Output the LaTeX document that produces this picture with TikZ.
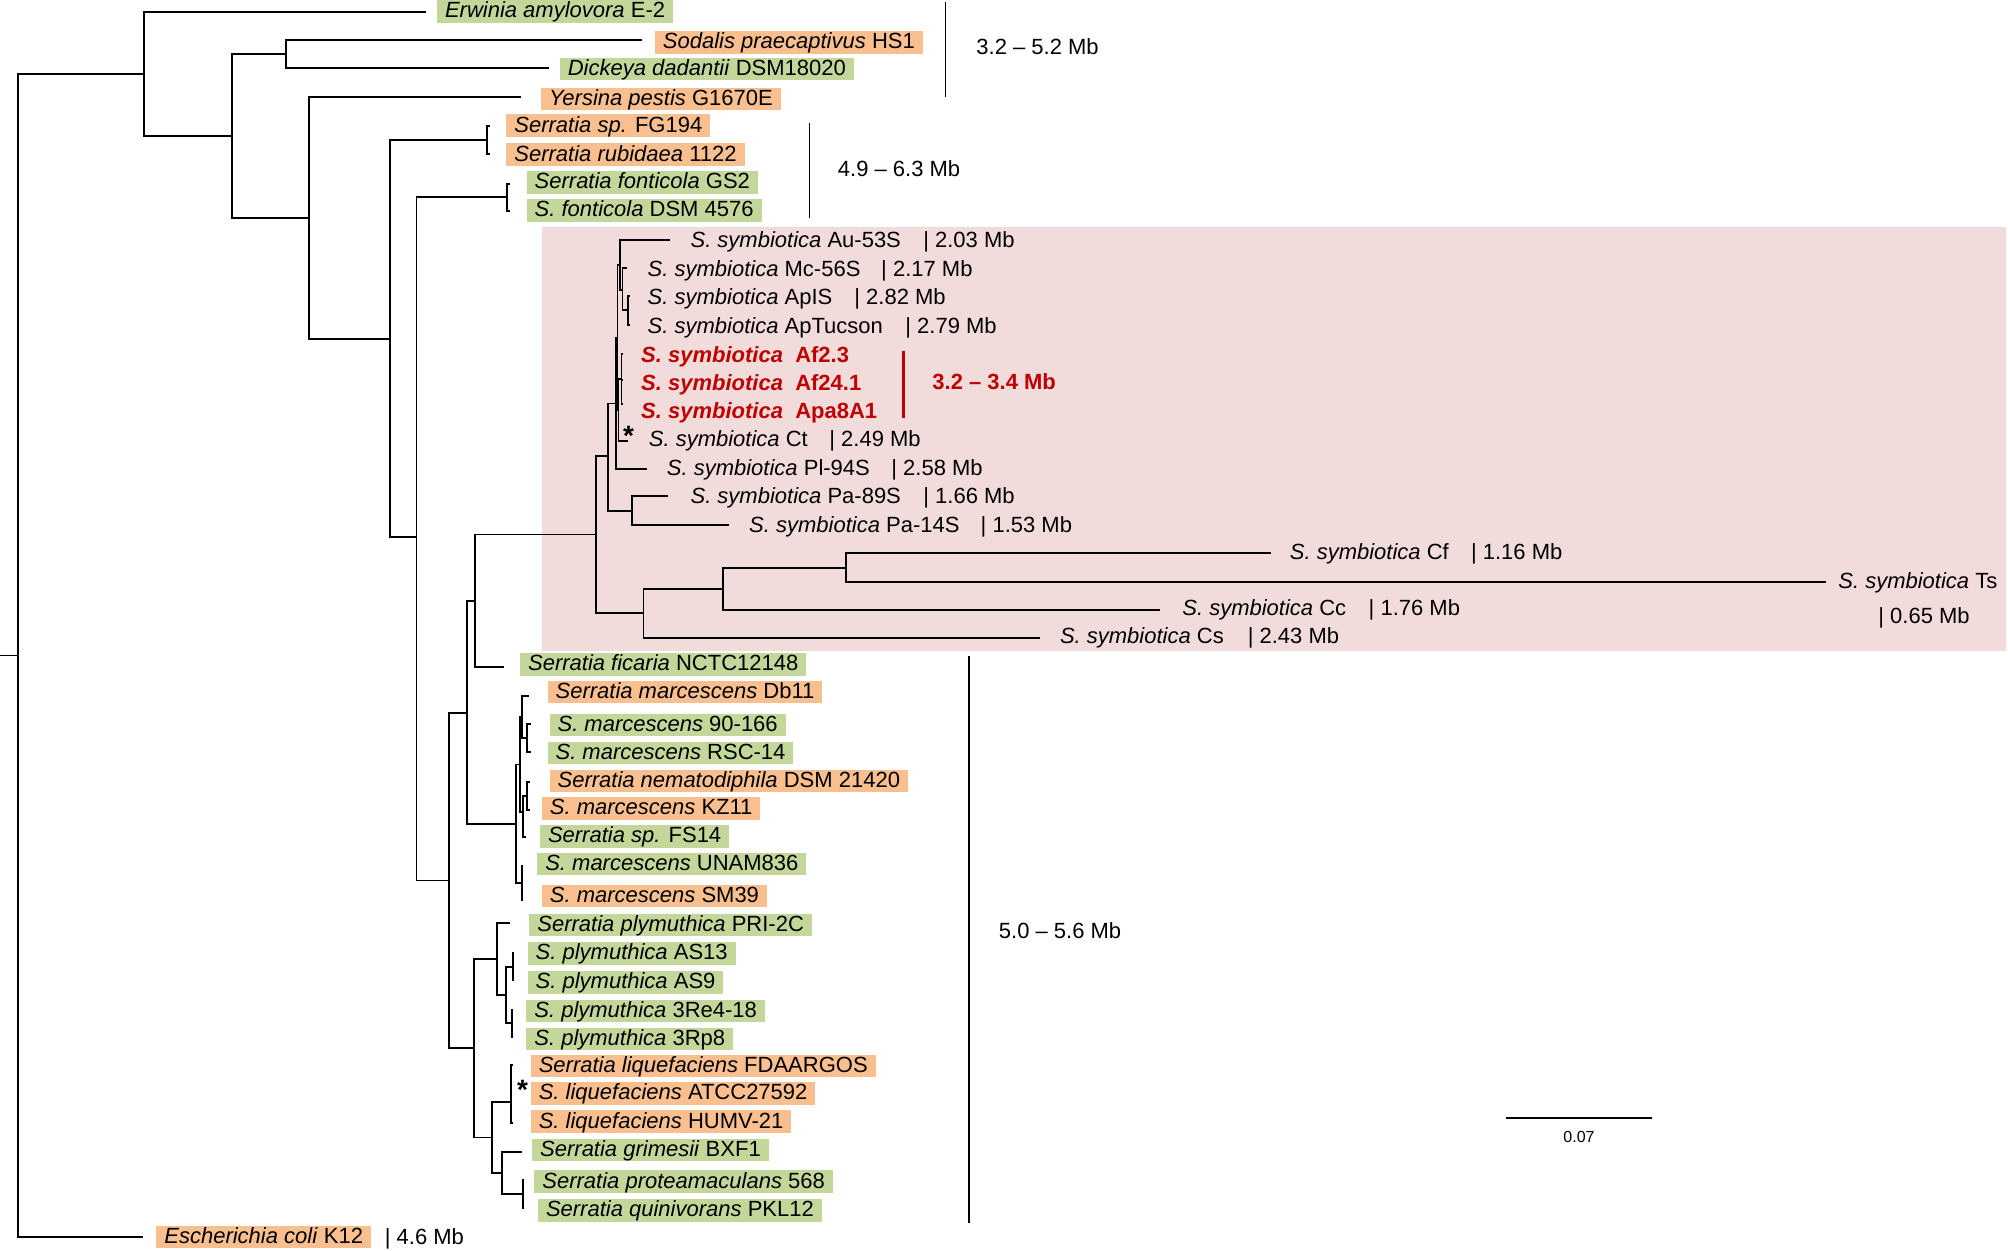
\documentclass[tikz,border=0pt]{standalone}
\usepackage{fontspec}
\setmainfont{Liberation Sans}
\usepackage{xcolor}

\definecolor{boxgreen}{HTML}{C4D79B}
\definecolor{boxorange}{HTML}{FABF8F}
\definecolor{symbg}{HTML}{F2DCDB}
\definecolor{symred}{HTML}{C00000}

\newcommand{\ssym}{\textit{S. symbiotica}}

\begin{document}
\begin{tikzpicture}[
    x=0.5pt,y=-0.5pt,
    font=\fontsize{11}{13}\selectfont,
    branch/.style={line width=0.9pt},
    gbox/.style={fill=boxgreen,anchor=west,inner xsep=4pt,inner ysep=0.2pt,
      text height=8.6pt,text depth=2.3pt},
    obox/.style={gbox,fill=boxorange},
    taxon/.style={anchor=west,inner sep=0pt,text height=8.6pt,text depth=2.3pt},
    redtaxon/.style={taxon,text=symred,font=\fontsize{11}{13}\selectfont\bfseries},
    sizebar/.style={line width=0.65pt},
    star/.style={inner sep=0pt,font=\fontsize{14}{14}\selectfont\bfseries},
  ]
  \useasboundingbox (0,0) rectangle (2008,1251);

  % symbiotica clade background
  \fill[symbg] (541.5,226.7) rectangle (2006,650.5);

  % inner nodes
  \foreach \n/\x/\y in {root/17.9/655.5, A/143.8/74, B/232/136, C/285.7/54.3,
      D/309/218.3, E/389.7/339.3, F/486.6/140, G/416.5/537, H/506.7/197.3,
      I/449/880.5, J/467/712.7, K/475/601, P/596/534.5, Q/608/455.7,
      R/632/510.7, S/615.7/403.5, S1/617.5/338, S2/620/265, S4/622.5/290,
      S5/628.3/310, S3/618.5/410, S6/621.5/379, T/643.5/613.3, U/722.7/589.3,
      V/845.6/567.7, L/516/824, M/520/764.5, M1/522.3/717, M1b/526.7/738,
      M2/523.3/812, M2b/526.7/796, Lb/521.7/883, W/473.75/1048, X/497.3/959,
      Y/506/995, Y1/513.3/966.7, Y2/511.7/1023.3, Z/491.7/1137.4,
      Liq/510.7/1101.7, AA/501.7/1173, AB/523.3/1194}
    \coordinate (\n) at (\x,\y);

  % branch tips
  \foreach \n/\x/\y in {teco/143.4/1237, terw/426/11.7, tsod/641.5/40.3,
      tdic/549/68.3, tyer/521.4/97.3, tfg/490/126, trub/490/154,
      tfgs/510/184, tfdsm/510/210.7, tfic/504/666.7, tpa89/668.4/496,
      tpa14/728.9/525, tpl/646.7/469, tau/670.3/240, tmc/627/268,
      tapi/629.5/296, tapt/629.5/325, tct/628.3/440.7, taf2/622.5/354,
      taf24/622.5/380, tapa/622.5/404, tcs/1040/638.3, tcc/1160/610,
      tcf/1271/553.3, tts/1826/581.7, tdb/529.3/696, tm90/530.7/724,
      trsc/530.7/752, tfs/525.5/836.7, tnem/529.5/781.7, tkz/529.5/810,
      tunam/523/866, tsm/523/900, tpri/510.4/923.3, tas13/514/953.3,
      tas9/514/980, tre4/512.5/1010, trp8/512.5/1036.7, tfda/513/1065,
      thumv/513/1123.3, tgri/521.7/1151.7, tpro/524/1180, tqui/524/1208.3}
    \coordinate (\n) at (\x,\y);

  \coordinate (stub) at (0,655.5);
  \draw[branch] (stub) -- (root);

  % tree
  \foreach \p/\c in {root/A, root/teco, A/terw, A/B, B/C, B/D, C/tsod, C/tdic,
      D/tyer, D/E, E/F, E/G, F/tfg, F/trub, G/H, G/I, H/tfgs, H/tfdsm,
      I/J, I/W, J/K, J/L, K/P, K/tfic, P/Q, P/T, Q/S, Q/R, R/tpa89, R/tpa14,
      S/S1, S/tpl, S1/S2, S1/S3, S2/tau, S2/S4, S4/tmc, S4/S5, S5/tapi,
      S5/tapt, S3/S6, S3/tct, S6/taf2, S6/taf24, S6/tapa, T/U, T/tcs, U/V,
      U/tcc, V/tcf, V/tts, L/M, L/Lb, M/M1, M/M2, M1/tdb, M1/M1b, M1b/tm90,
      M1b/trsc, M2/M2b, M2/tfs, M2b/tnem, M2b/tkz, Lb/tunam, Lb/tsm, W/X,
      W/Z, X/tpri, X/Y, Y/Y1, Y/Y2, Y1/tas13, Y1/tas9, Y2/tre4, Y2/trp8,
      Z/Liq, Z/AA, Liq/tfda, Liq/thumv, AA/tgri, AA/AB, AB/tpro, AB/tqui}
    \draw[branch] (\p) |- (\c);

  % free-living genomes
  \node[gbox] (erw)  at (436.6,11.5)  {\textit{Erwinia amylovora} E-2};
  \node[obox] (sod)  at (654.5,42.3)  {\textit{Sodalis praecaptivus} HS1};
  \node[gbox] (dic)  at (559.4,69.2)  {\textit{Dickeya dadantii} DSM18020};
  \node[obox] (yer)  at (540.6,99.2)  {\textit{Yersina pestis} G1670E};
  \node[obox] (fg)   at (506,125.8)   {\textit{Serratia sp.} FG194};
  \node[obox] (rub)  at (506,154.8)   {\textit{Serratia rubidaea} 1122};
  \node[gbox] (fgs)  at (526.3,182.5) {\textit{Serratia fonticola} GS2};
  \node[gbox] (fdsm) at (526.3,210.5) {\textit{S. fonticola} DSM 4576};
  \node[gbox] (fic)  at (519.7,664.5) {\textit{Serratia ficaria} NCTC12148};
  \node[obox] (db)   at (547.2,692)   {\textit{Serratia marcescens} Db11};
  \node[gbox] (m90)  at (549.2,725)   {\textit{S. marcescens} 90-166};
  \node[gbox] (rsc)  at (547.2,753)   {\textit{S. marcescens} RSC-14};
  \node[obox] (nem)  at (549.2,781)   {\textit{Serratia nematodiphila} DSM 21420};
  \node[obox] (kz)   at (541.5,808.3) {\textit{S. marcescens} KZ11};
  \node[gbox] (fs)   at (539.6,836.2) {\textit{Serratia sp.} FS14};
  \node[gbox] (unam) at (536.9,864)   {\textit{S. marcescens} UNAM836};
  \node[obox] (sm)   at (541.5,896)   {\textit{S. marcescens} SM39};
  \node[gbox] (pri)  at (529,925)     {\textit{Serratia plymuthica} PRI-2C};
  \node[gbox] (as13) at (527.3,953.3) {\textit{S. plymuthica} AS13};
  \node[gbox] (as9)  at (527.3,982.5) {\textit{S. plymuthica} AS9};
  \node[gbox] (re4)  at (526,1010.8)  {\textit{S. plymuthica} 3Re4-18};
  \node[gbox] (rp8)  at (526,1039)    {\textit{S. plymuthica} 3Rp8};
  \node[obox] (fda)  at (530.4,1066)  {\textit{Serratia liquefaciens} FDAARGOS};
  \node[obox] (atcc) at (530.4,1093.3) {\textit{S. liquefaciens} ATCC27592};
  \node[obox] (humv) at (530.4,1121.7) {\textit{S. liquefaciens} HUMV-21};
  \node[gbox] (gri)  at (531.8,1150)  {\textit{Serratia grimesii} BXF1};
  \node[gbox] (pro)  at (534,1181.7)  {\textit{Serratia proteamaculans} 568};
  \node[gbox] (qui)  at (537.6,1210.5) {\textit{Serratia quinivorans} PKL12};
  \node[obox] (eco)  at (156,1237)    {\textit{Escherichia coli} K12};
  \node[taxon] (ecosize) at (384.5,1238) {| 4.6 Mb};

  % symbionts
  \node[taxon] (au)   at (690.2,241.7) {\ssym{} Au-53S};
  \node[taxon] (ausz) at (922.9,241.7) {| 2.03 Mb};
  \node[taxon] (mc)   at (647.3,270)   {\ssym{} Mc-56S};
  \node[taxon] (mcsz) at (880.8,270)   {| 2.17 Mb};
  \node[taxon] (api)  at (647.3,298.3) {\ssym{} ApIS};
  \node[taxon] (apisz) at (854,298.3)  {| 2.82 Mb};
  \node[taxon] (apt)  at (647.3,327.3) {\ssym{} ApTucson};
  \node[taxon] (aptsz) at (905,327.3)  {| 2.79 Mb};
  \node[redtaxon] (af2)  at (640.8,356)   {\textit{S. symbiotica}\ \ Af2.3};
  \node[redtaxon] (af24) at (640.8,384)   {\textit{S. symbiotica}\ \ Af24.1};
  \node[redtaxon] (apa)  at (640.8,412.3) {\textit{S. symbiotica}\ \ Apa8A1};
  \node[taxon] (ct)   at (648.5,440.7) {\ssym{} Ct};
  \node[taxon] (ctsz) at (829,440.7)   {| 2.49 Mb};
  \node[taxon] (pl)   at (666.5,469.3) {\ssym{} Pl-94S};
  \node[taxon] (plsz) at (891,469.3)   {| 2.58 Mb};
  \node[taxon] (pa89) at (690.2,497.3) {\ssym{} Pa-89S};
  \node[taxon] (pa89sz) at (923,497.3) {| 1.66 Mb};
  \node[taxon] (pa14) at (748.8,526)   {\ssym{} Pa-14S};
  \node[taxon] (pa14sz) at (980.3,526) {| 1.53 Mb};
  \node[taxon] (cf)   at (1289.5,553.3) {\ssym{} Cf};
  \node[taxon] (cfsz) at (1470.6,553.3) {| 1.16 Mb};
  \node[taxon] (ts)   at (1838,581.7)   {\ssym{} Ts};
  \node[taxon] (tssz) at (1878,616.7)   {| 0.65 Mb};
  \node[taxon] (cc)   at (1182,609.3)   {\ssym{} Cc};
  \node[taxon] (ccsz) at (1368.3,609.3) {| 1.76 Mb};
  \node[taxon] (cs)   at (1059.6,637.3) {\ssym{} Cs};
  \node[taxon] (cssz) at (1247.4,637.3) {| 2.43 Mb};

  \node[star] (star1) at (628.5,436) {*};
  \node[star] (star2) at (522.5,1090) {*};

  % genome size ranges
  \coordinate (r1a) at (945.5,1.7);   \coordinate (r1b) at (945.5,96.7);
  \coordinate (r2a) at (809.8,122.7); \coordinate (r2b) at (809.8,218.3);
  \coordinate (r3a) at (903.6,350.7); \coordinate (r3b) at (903.6,418.3);
  \coordinate (r4a) at (969,656);     \coordinate (r4b) at (969,1222.7);
  \draw[sizebar] (r1a) -- (r1b);
  \draw[sizebar] (r2a) -- (r2b);
  \draw[sizebar,symred,line width=1.5pt] (r3a) -- (r3b);
  \draw[sizebar] (r4a) -- (r4b);
  \node[taxon] (range1) at (976,48.3)    {3.2 – 5.2 Mb};
  \node[taxon] (range2) at (837.5,170)   {4.9 – 6.3 Mb};
  \node[redtaxon] (range3) at (932,383.3) {3.2 – 3.4 Mb};
  \node[taxon] (range4) at (998.5,932)   {5.0 – 5.6 Mb};

  % scale
  \coordinate (sc1) at (1506,1118);
  \coordinate (sc2) at (1652,1118);
  \draw[line width=1pt] (sc1) -- (sc2);
  \node[inner sep=0pt,font=\fontsize{8}{9}\selectfont] (sclabel) at (1579,1137) {0.07};
\end{tikzpicture}
\end{document}
